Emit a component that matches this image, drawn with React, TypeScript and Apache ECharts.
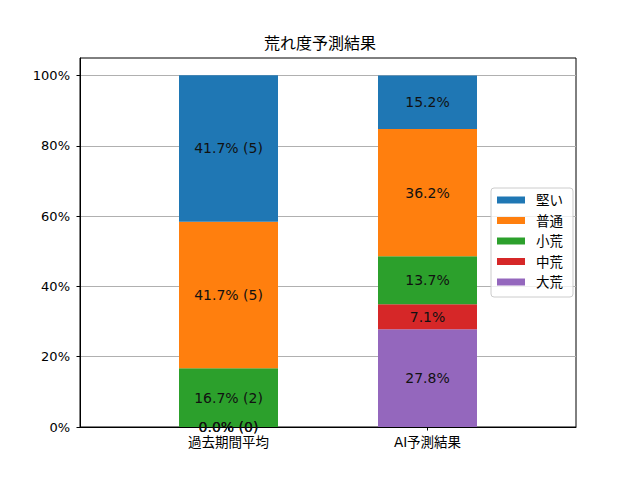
import React, { useEffect, useRef } from "react";
import * as echarts from "echarts";

const categories = ["過去期間平均", "AI予測結果"];
const classes = ["大荒", "中荒", "小荒", "普通", "堅い"];
const colors = ["#9467bd", "#d62728", "#2ca02c", "#ff7f0e", "#1f77b4"];
// per class: [past %, AI %]
const pastPct = [0.0, 0.0, 16.7, 41.7, 41.7];
const pastCount = [0, 0, 2, 5, 5];
const aiPct = [27.8, 7.1, 13.7, 36.2, 15.2];
const yTicks = [0, 20, 40, 60, 80, 100];
const legendOrder = ["堅い", "普通", "小荒", "中荒", "大荒"];

const FONT = "'DejaVu Sans', 'Noto Sans CJK JP', sans-serif";

export default function App() {
  const ref = useRef<HTMLDivElement>(null);
  useEffect(() => {
    if (!ref.current) return;
    const chart = echarts.init(ref.current, null, { renderer: "svg" });
    const series = classes.map((name, i) => ({
      name,
      type: "bar",
      stack: "total",
      barWidth: 99,
      xAxisIndex: 1,
      yAxisIndex: 1,
      itemStyle: { color: colors[i] },
      data: [pastPct[i], aiPct[i]],
      label: {
        show: true,
        position: "inside",
        color: "#111",
        fontSize: 14,
        fontFamily: FONT,
        textBorderWidth: 0,
        formatter: (p: any) =>
          p.dataIndex === 0
            ? `${pastPct[i].toFixed(1)}% (${pastCount[i]})`
            : `${aiPct[i].toFixed(1)}%`,
      },
    }));
    chart.setOption({
      animation: false,
      textStyle: { fontFamily: FONT },
      title: {
        text: "荒れ度予測結果",
        left: "center",
        top: 35,
        padding: 0,
        textStyle: { fontSize: 16, fontWeight: "normal", color: "#000", fontFamily: FONT },
      },
      legend: {
        orient: "vertical",
        left: 491,
        top: 188,
        data: legendOrder,
        itemWidth: 28,
        itemHeight: 7,
        itemGap: 6.5,
        padding: [5, 10, 8, 6],
        borderColor: "#cccccc",
        borderWidth: 1,
        borderRadius: 3,
        backgroundColor: "rgba(255,255,255,0.8)",
        icon: "rect",
        textStyle: { fontSize: 13.5, color: "#000", lineHeight: 14, padding: [0, 0, 0, 6], fontFamily: FONT },
      },
      grid: [
        {
          left: 80,
          right: 64,
          top: 58,
          bottom: 53,
          show: true,
          borderColor: "#000",
          borderWidth: 1,
          backgroundColor: "transparent",
        },
        { left: 129, right: 113, top: 58, bottom: 53 },
      ],
      xAxis: [
        {
          type: "value",
          gridIndex: 0,
          min: 0,
          max: 1,
          splitLine: { show: false },
          axisLine: { show: true, lineStyle: { color: "#000", width: 1 } },
          axisTick: { show: false },
          axisLabel: { show: false },
        },
        {
          type: "category",
          gridIndex: 1,
          data: categories,
          axisLine: { show: false },
          axisTick: { show: true, alignWithLabel: true, interval: 0, length: 3.5, lineStyle: { color: "#000" } },
          axisLabel: { interval: 0, margin: 8, fontSize: 13.5, color: "#000", fontFamily: FONT },
          splitLine: { show: false },
        },
      ],
      yAxis: [
        {
          type: "value",
          gridIndex: 0,
          min: 0,
          max: 105,
          interval: 20,
          axisLine: { show: true, onZero: false, lineStyle: { color: "#000", width: 1 } },
          axisTick: { show: true, customValues: yTicks, length: 3.5, lineStyle: { color: "#000" } },
          axisLabel: {
            customValues: yTicks,
            margin: 10,
            fontSize: 13,
            color: "#000",
            fontFamily: FONT,
            formatter: (v: number) => `${v}%`,
          },
          splitLine: { show: true, lineStyle: { color: "#b0b0b0", width: 1 } },
        },
        {
          type: "value",
          gridIndex: 1,
          min: 0,
          max: 105,
          show: false,
          splitLine: { show: false },
        },
      ],
      series,
    });
    return () => chart.dispose();
  }, []);
  return <div ref={ref} style={{ width: 640, height: 480, margin: -8 }} />;
}
